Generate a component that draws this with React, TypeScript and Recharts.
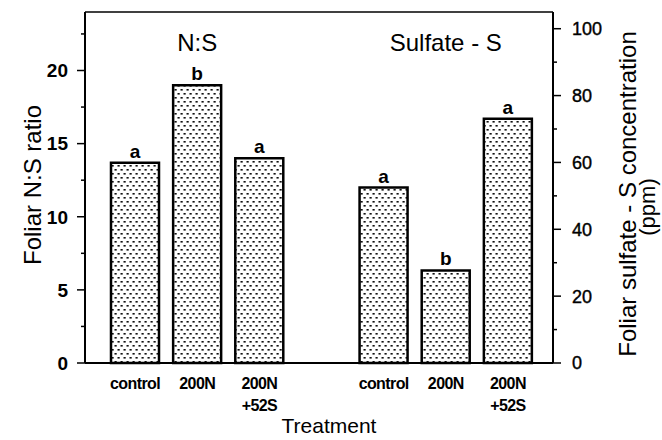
import { BarChart, Bar, XAxis, YAxis, LabelList, ReferenceLine, ReferenceDot } from 'recharts'

// values
const TREATMENTS = ['control', '200N', '200N+52S']
const TREATMENT_LINES = [['control'], ['200N'], ['200N', '+52S']]
const NS_RATIO = [13.7, 19.0, 14.0]
const NS_LETTERS = ['a', 'b', 'a']
const SULFATE_S = [52.5, 27.7, 73.1]
const SULFATE_LETTERS = ['a', 'b', 'a']
const GROUP_TITLES = ['N:S', 'Sulfate - S']
const LEFT_TICKS = [0, 2.5, 5, 7.5, 10, 12.5, 15, 17.5, 20, 22.5]
const RIGHT_TICKS = [0, 10, 20, 30, 40, 50, 60, 70, 80, 90, 100]
const LEFT_MAX = 24
const RIGHT_MAX = 105

const FONT = '"Liberation Sans", Arial, Helvetica, sans-serif'

type Row = {
  key: string
  lines: string[]
  ns?: number
  nsLetter?: string
  so4?: number
  so4Letter?: string
}

const data: Row[] = [
  ...TREATMENTS.map((t, i) => ({ key: `ns-${t}`, lines: TREATMENT_LINES[i], ns: NS_RATIO[i], nsLetter: NS_LETTERS[i] })),
  { key: 'gap', lines: [] },
  ...TREATMENTS.map((t, i) => ({ key: `so4-${t}`, lines: TREATMENT_LINES[i], so4: SULFATE_S[i], so4Letter: SULFATE_LETTERS[i] })),
]

function LeftTick({ x, y, payload }: any) {
  const major = payload.value % 5 === 0
  return (
    <g>
      <line x1={x} x2={x - (major ? 8 : 4)} y1={y} y2={y} stroke="#000" strokeWidth={1.5} />
      {major && (
        <text x={x - 17} y={y} dy="0.36em" textAnchor="end" fontWeight="bold" fontSize={19} fill="#000">
          {payload.value}
        </text>
      )}
    </g>
  )
}

function RightTick({ x, y, payload }: any) {
  const major = payload.value % 20 === 0
  return (
    <g>
      <line x1={x} x2={x + (major ? 8 : 4)} y1={y} y2={y} stroke="#000" strokeWidth={1.5} />
      {major && (
        <text x={x + 19} y={y} dy="0.36em" textAnchor="start" fontSize={18} fill="#000" stroke="#000" strokeWidth={0.4}>
          {payload.value}
        </text>
      )}
    </g>
  )
}

function TreatmentTick({ x, y, payload }: any) {
  const row = data.find((d) => d.key === payload.value)
  if (!row) return null
  return (
    <g>
      {row.lines.map((line, i) => (
        <text key={i} x={x} y={y + 26 + i * 22} textAnchor="middle" fontWeight="bold" fontSize={16} letterSpacing={-0.6} fill="#000">
          {line}
        </text>
      ))}
    </g>
  )
}

const letterStyle = { fontSize: 19, fontWeight: 'bold', fill: '#000' }

export default function App() {
  return (
    <div style={{ position: 'absolute', left: 0, top: 0, background: '#fff', fontFamily: FONT }}>
      <BarChart
        width={662}
        height={440}
        data={data}
        margin={{ top: 12, right: 49, bottom: 37, left: 25 }}
        barGap={-48}
      >
        <defs>
          <pattern id="dots" width="6" height="8" patternUnits="userSpaceOnUse">
            <rect width="6" height="8" fill="#fff" />
            <rect x="0.5" y="1" width="2.2" height="1.6" fill="#111" />
            <rect x="3.5" y="5" width="2.2" height="1.6" fill="#111" />
          </pattern>
        </defs>
        <XAxis
          dataKey="key"
          xAxisId={0}
          height={40}
          padding={{ left: 19, right: 14 }}
          tick={<TreatmentTick />}
          tickLine={false}
          tickSize={0}
          tickMargin={0}
          interval={0}
          axisLine={{ stroke: '#000', strokeWidth: 2 }}
        />
        <YAxis
          yAxisId="left"
          orientation="left"
          width={60}
          domain={[0, LEFT_MAX]}
          ticks={LEFT_TICKS}
          interval={0}
          tick={<LeftTick />}
          tickLine={false}
          tickSize={0}
          tickMargin={0}
          axisLine={{ stroke: '#000', strokeWidth: 2 }}
        />
        <YAxis
          yAxisId="right"
          orientation="right"
          width={60}
          domain={[0, RIGHT_MAX]}
          ticks={RIGHT_TICKS}
          interval={0}
          tick={<RightTick />}
          tickLine={false}
          tickSize={0}
          tickMargin={0}
          axisLine={{ stroke: '#000', strokeWidth: 2 }}
        />
        <ReferenceLine yAxisId="left" y={LEFT_MAX} stroke="#000" strokeWidth={1.5} />
        <Bar
          dataKey="ns"
          yAxisId="left"
          barSize={48}
          fill="url(#dots)"
          stroke="#000"
          strokeWidth={2.5}
          isAnimationActive={false}
        >
          <LabelList dataKey="nsLetter" position="top" offset={5} style={letterStyle} />
        </Bar>
        <Bar
          dataKey="so4"
          yAxisId="right"
          barSize={48}
          fill="url(#dots)"
          stroke="#000"
          strokeWidth={2.5}
          isAnimationActive={false}
        >
          <LabelList dataKey="so4Letter" position="top" offset={5} style={letterStyle} />
        </Bar>
        <ReferenceDot
          yAxisId="left"
          x={`ns-${TREATMENTS[1]}`}
          y={21.9}
          r={0}
          fill="none"
          stroke="none"
          label={{ value: GROUP_TITLES[0], position: 'center', fontSize: 24, fill: '#000' }}
        />
        <ReferenceDot
          yAxisId="left"
          x={`so4-${TREATMENTS[1]}`}
          y={21.9}
          r={0}
          fill="none"
          stroke="none"
          label={{ value: GROUP_TITLES[1], position: 'center', fontSize: 24, fill: '#000' }}
        />
        <text x={41} y={185} transform="rotate(-90 41 185)" textAnchor="middle" fontSize={24} fill="#000">
          Foliar N:S ratio
        </text>
        <text x={636} y={194} transform="rotate(-90 636 194)" textAnchor="middle" fontSize={24} fill="#000">
          Foliar sulfate - S concentration
        </text>
        <text x={655} y={207} transform="rotate(-90 655 207)" textAnchor="middle" fontSize={22} fill="#000">
          (ppm)
        </text>
        <text x={329} y={433} textAnchor="middle" fontSize={21} fill="#000">
          Treatment
        </text>
      </BarChart>
    </div>
  )
}
